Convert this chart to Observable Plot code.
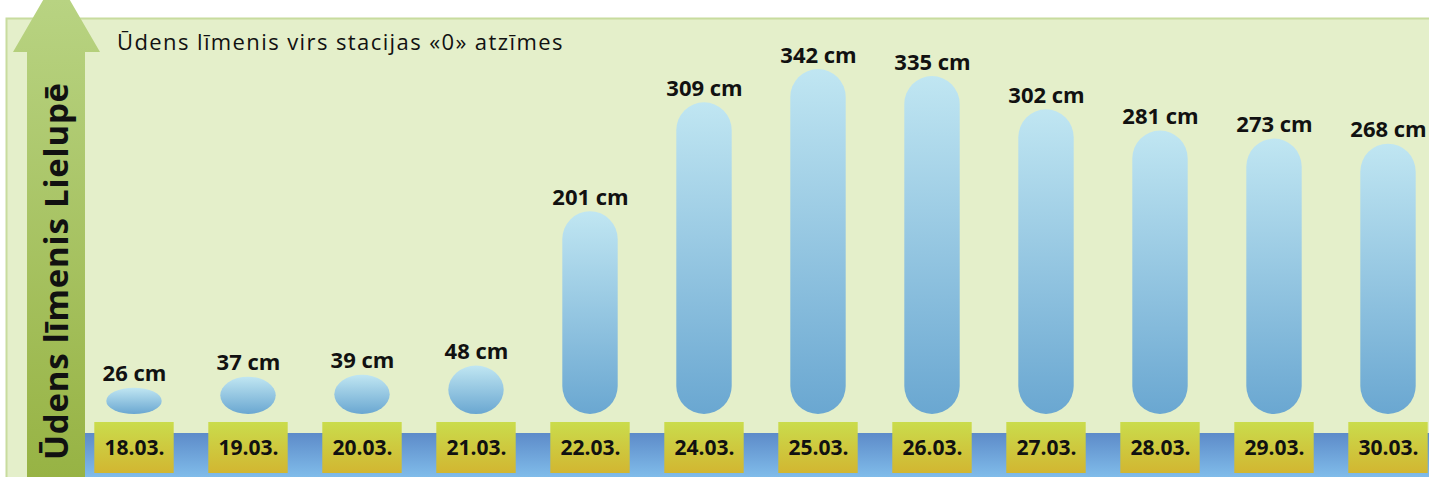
<!DOCTYPE html>
<html><head><meta charset="utf-8">
<script src="https://cdn.jsdelivr.net/npm/d3@7"></script>
<script src="https://cdn.jsdelivr.net/npm/@observablehq/plot@0.6"></script>
<style>body{margin:0;background:#fff;overflow:hidden}</style>
</head><body><div id="chart"></div>
<script>
const dates = ["18.03.","19.03.","20.03.","21.03.","22.03.","24.03.","25.03.","26.03.","27.03.","28.03.","29.03.","30.03."];
const levels = [26,37,39,48,201,309,342,335,302,281,273,268];
const unit = "cm";
const title = "Ūdens līmenis virs stacijas «0» atzīmes";
const axisTitle = "Ūdens līmenis Lielupē";
const data = dates.map((d, i) => ({date: d, level: levels[i]}));

const W = 1429, H = 477;
const font = "'Open Sans', 'DejaVu Sans', sans-serif";
const plot = Plot.plot({
  width: W, height: H, margin: 0,
  style: {background: "transparent", fontFamily: font, overflow: "hidden"},
  x: {type: "band", domain: dates, range: [73.7, 1448.9], padding: 0, axis: null},
  y: {domain: [0, 342], range: [414, 69], axis: null},
  marks: [
    Plot.barY(data, {x: "date", y: "level", fill: "url(#barGrad)", insetLeft: 29.3, insetRight: 29.3, rx: 28}),
    Plot.text(data, {x: "date", y: "level", text: d => `${d.level} ${unit}`, lineAnchor: "bottom", dy: -7, fontSize: 22, fontWeight: "bold", fill: "#111", letterSpacing: 0.5}),
    Plot.barY(dates, {x: d => d, y1: 0, y2: 0, insetTop: 8, insetBottom: -59, insetLeft: 17.3, insetRight: 17.3, fill: "url(#boxGrad)"}),
    Plot.text(dates, {x: d => d, y: 0, dy: 33.5, text: d => d, fontSize: 21, fontWeight: "bold", fill: "#111"})
  ]
});

const svg = d3.select(plot);
const defs = svg.insert("defs", ":first-child");
function grad(id, c0, c1, user, y1, y2) {
  const g = defs.append("linearGradient").attr("id", id).attr("x1", 0).attr("x2", 0);
  if (user) g.attr("gradientUnits", "userSpaceOnUse").attr("y1", y1).attr("y2", y2);
  else g.attr("y1", 0).attr("y2", 1);
  g.append("stop").attr("offset", 0).attr("stop-color", c0);
  g.append("stop").attr("offset", 1).attr("stop-color", c1);
}
grad("barGrad", "#c0e6f2", "#6aa7d1");
grad("boxGrad", "#cadc4c", "#d2b631");
grad("bandGrad", "#5d8bc9", "#80bcea");
grad("arrowGrad", "#b8d382", "#97b344", true, 0, 477);

const deco = svg.insert("g", "defs + *");
deco.append("rect").attr("x", 6.5).attr("y", 18.5).attr("width", W).attr("height", H)
  .attr("fill", "#e4efca").attr("stroke", "#c8dc9e").attr("stroke-width", 2);
deco.append("rect").attr("x", 85).attr("y", 433).attr("width", W - 85).attr("height", 44)
  .attr("fill", "url(#bandGrad)");
deco.append("polygon").attr("points", "27,477 27,52 13,52 56.5,-23 100,52 85,52 85,477")
  .attr("fill", "url(#arrowGrad)");
deco.append("text").attr("transform", "translate(68,460) rotate(-90)")
  .attr("text-anchor", "start").attr("letter-spacing", 0.8)
  .attr("font-family", font).attr("font-size", 33).attr("font-weight", "bold").attr("fill", "#111")
  .text(axisTitle);
deco.append("text").attr("x", 117).attr("y", 50)
  .attr("text-anchor", "start").attr("letter-spacing", 1.4)
  .attr("font-family", font).attr("font-size", 22).attr("fill", "#111")
  .text(title);

document.getElementById("chart").appendChild(plot);
</script>
</body></html>
